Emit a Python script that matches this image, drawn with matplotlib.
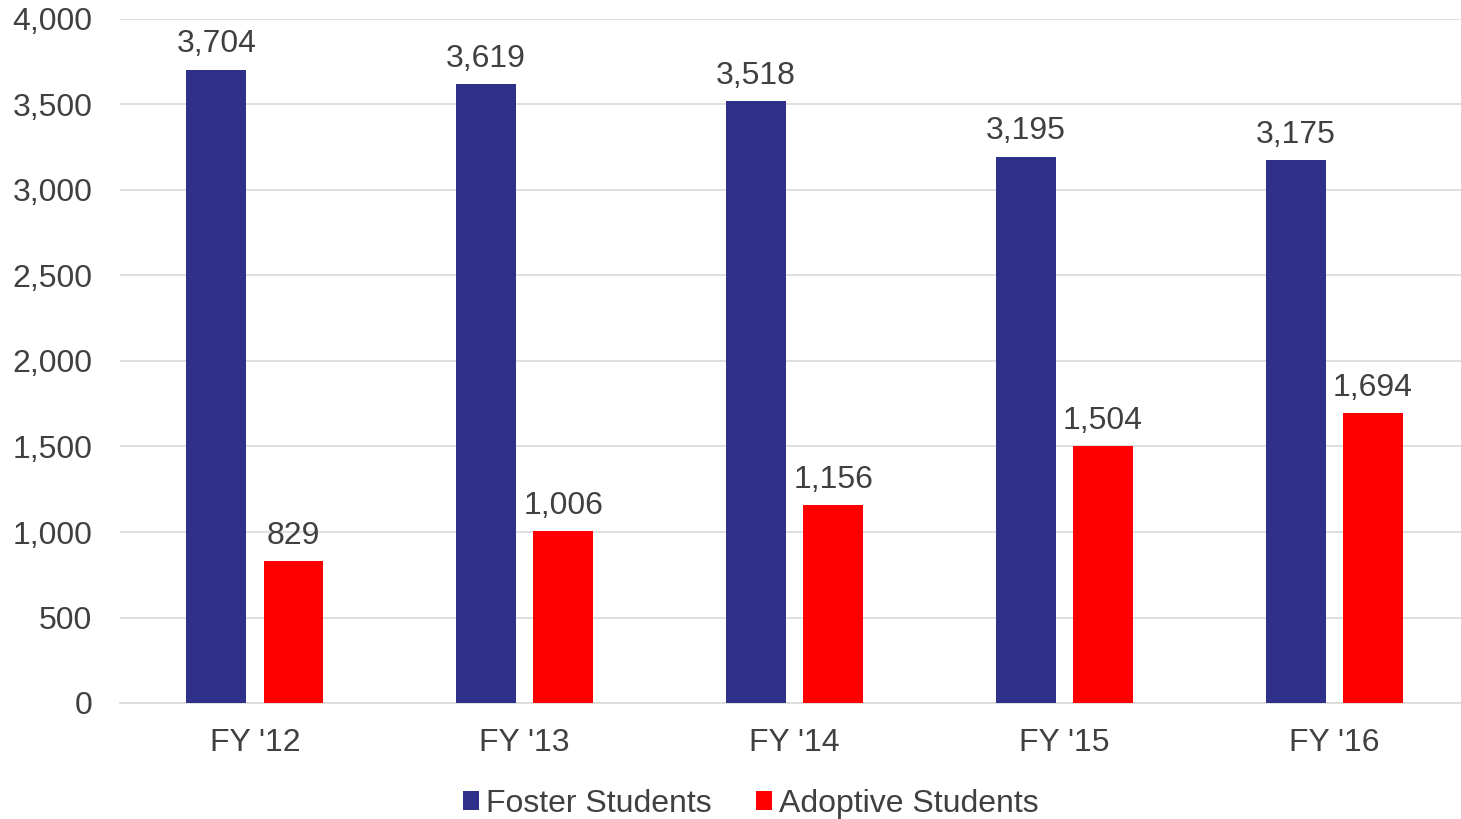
import numpy as np
import matplotlib.pyplot as plt

plt.rcParams['font.family'] = ['Liberation Sans', 'DejaVu Sans']

years = ["FY '12", "FY '13", "FY '14", "FY '15", "FY '16"]
foster = [3704, 3619, 3518, 3195, 3175]
adoptive = [829, 1006, 1156, 1504, 1694]

navy = '#2E3089'
red = '#FF0000'
txt = '#404040'

fig = plt.figure(figsize=(14.61, 8.19), dpi=100)
ax = fig.add_axes([120 / 1461, 1 - 703 / 819, 1 - 120 / 1461, (703 - 19) / 819])

x = np.arange(len(years))
off = 0.143
w = 0.222
b1 = ax.bar(x - off, foster, w, color=navy, label='Foster Students', zorder=3)
b2 = ax.bar(x + off, adoptive, w, color=red, label='Adoptive Students', zorder=3)

for bars, vals in [(b1, foster), (b2, adoptive)]:
    for r, v in zip(bars, vals):
        ax.text(r.get_x() + r.get_width() / 2, v + 60, f'{v:,}',
                ha='center', va='bottom', fontsize=23, color=txt)

ax.set_ylim(0, 4000)
ax.set_xlim(-0.5, 4.47)
ax.set_yticks(range(0, 4001, 500))
ax.set_yticklabels([f'{t:,}' for t in range(0, 4001, 500)])
ax.set_xticks(x)
ax.set_xticklabels(years)
ax.tick_params(axis='both', length=0, labelsize=23, colors=txt)
ax.tick_params(axis='y', pad=20)
ax.tick_params(axis='x', pad=18)
ax.grid(axis='y', color='#D9D9D9', linewidth=1.2, zorder=0)
for s in ['top', 'right', 'left']:
    ax.spines[s].set_visible(False)
ax.spines['bottom'].set_color('#D9D9D9')
ax.spines['bottom'].set_linewidth(1.2)

leg = fig.legend(loc='lower center', bbox_to_anchor=(0.514, -0.035), ncol=2,
                 frameon=False, fontsize=23, handlelength=0.5, handleheight=0.5,
                 handletextpad=0.22, columnspacing=1.4)
for t in leg.get_texts():
    t.set_color(txt)

fig.savefig('out.png', dpi=100)
